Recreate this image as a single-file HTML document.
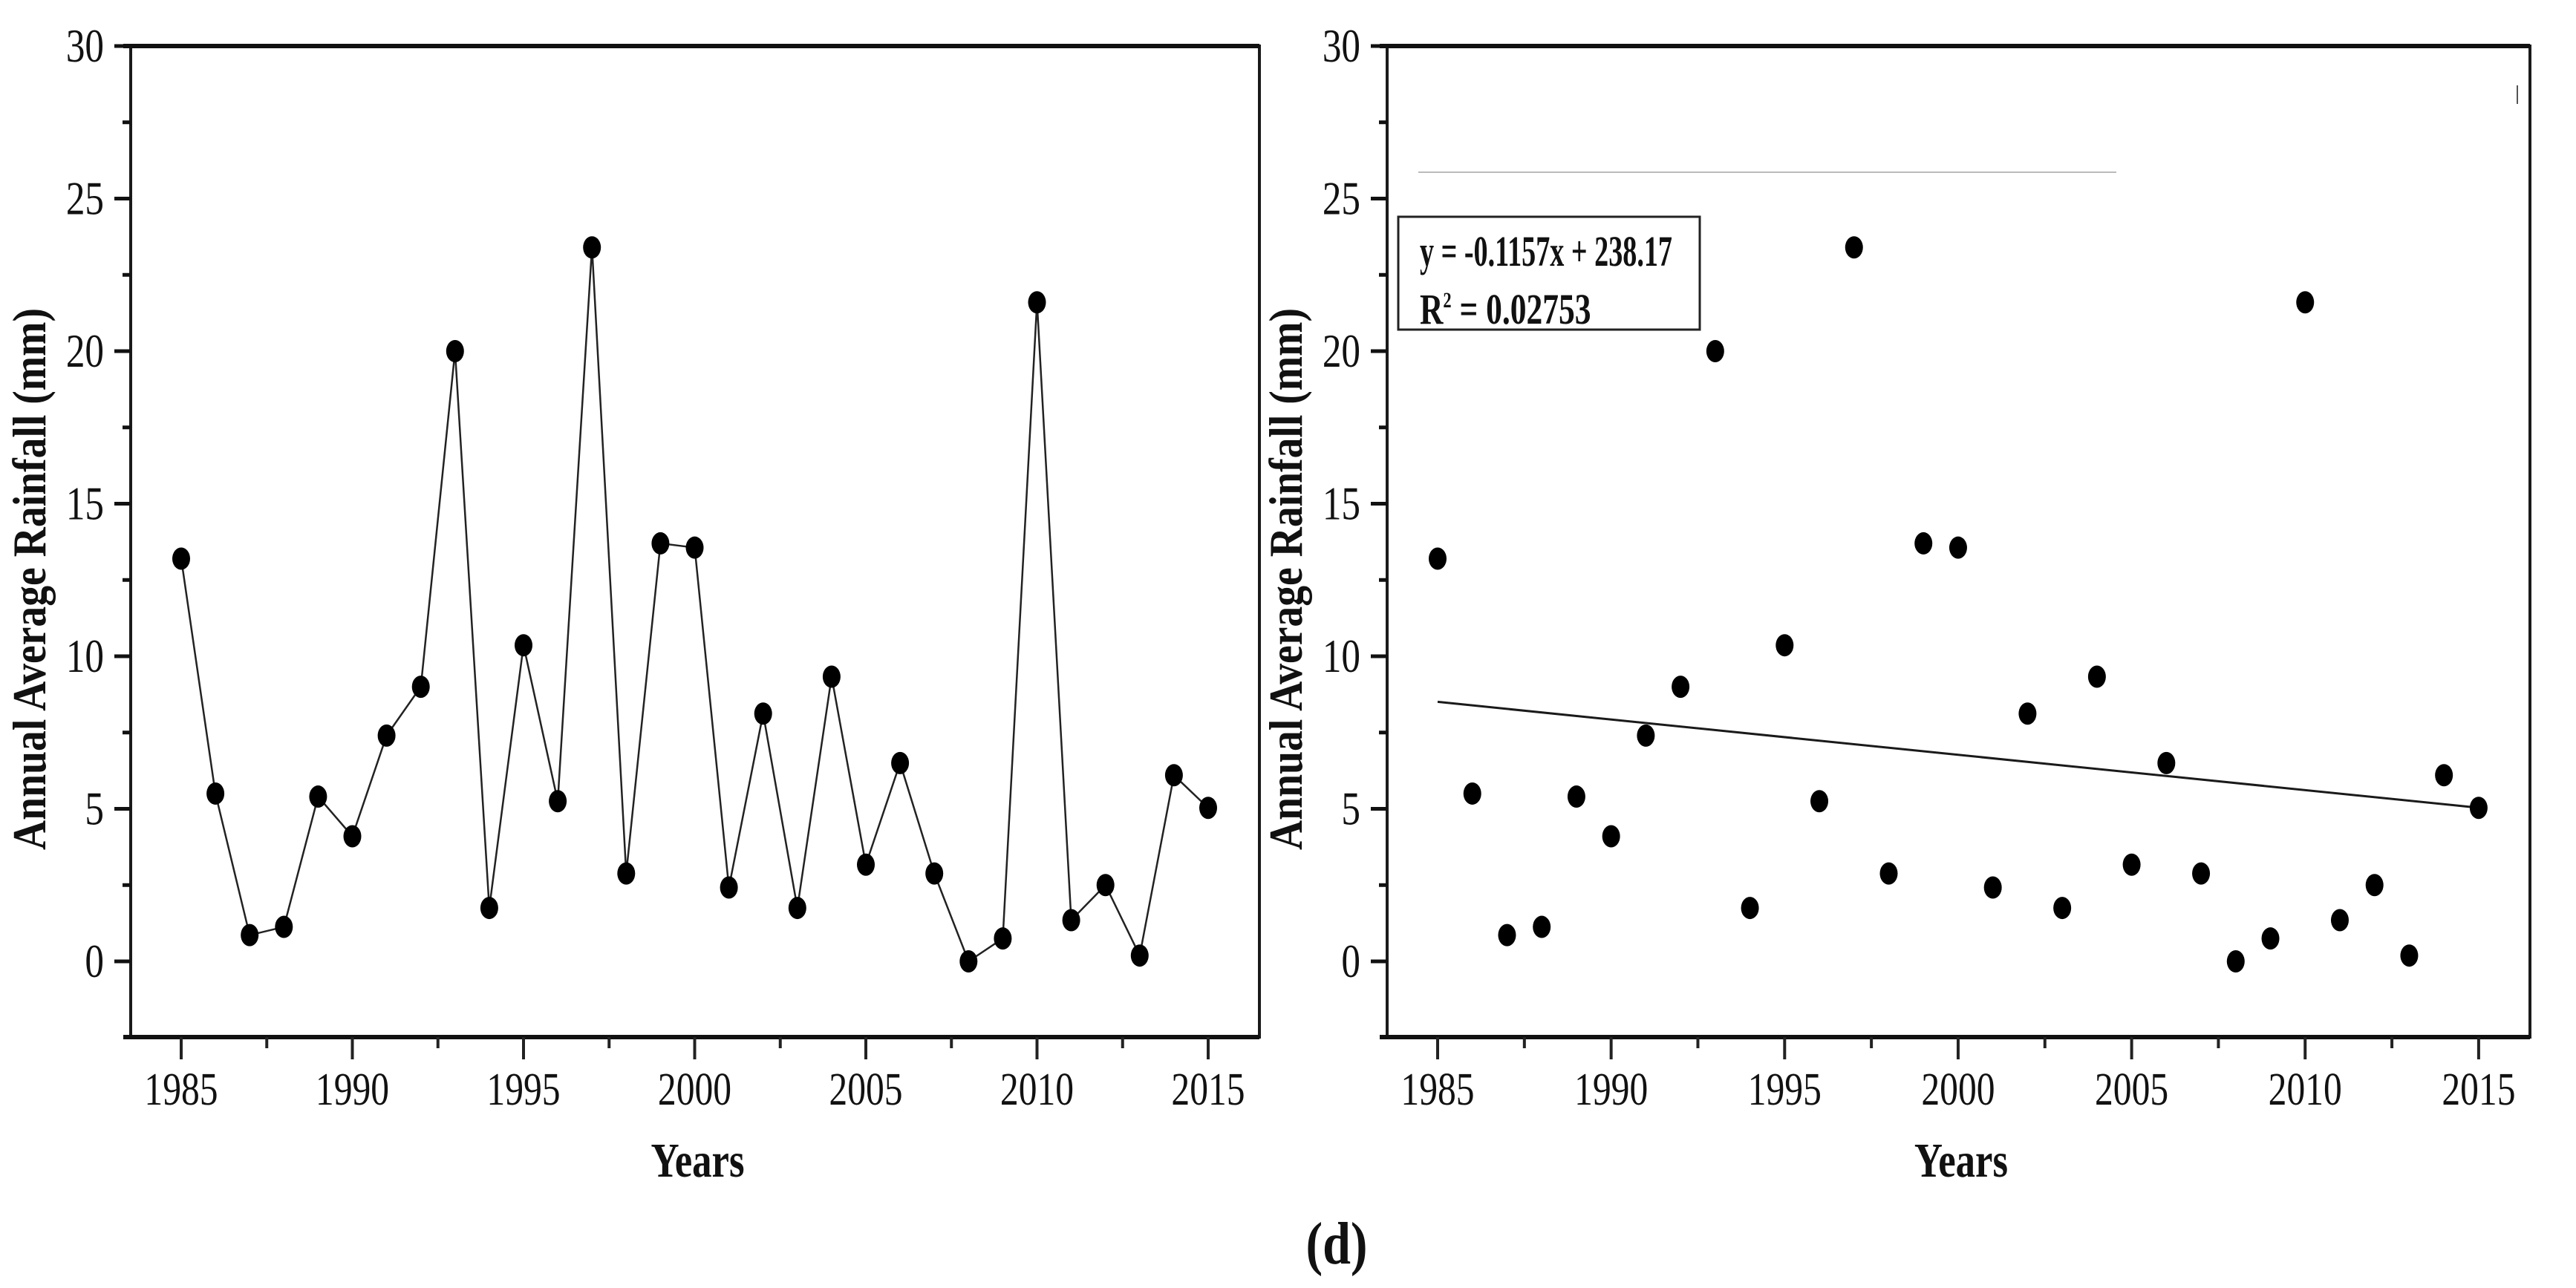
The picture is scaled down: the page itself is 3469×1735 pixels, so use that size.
<!DOCTYPE html>
<html><head><meta charset="utf-8"><style>
html,body{margin:0;padding:0;background:#fff;}
svg{display:block;}
text{font-family:"Liberation Serif","Times New Roman",serif;fill:#111;}
</style></head><body>
<svg id="fig" width="3469" height="1735" viewBox="0 0 3469 1735" xmlns="http://www.w3.org/2000/svg">
<rect width="3469" height="1735" fill="#fff"/>
</svg>
<script>
const years = [1985,1986,1987,1988,1989,1990,1991,1992,1993,1994,1995,1996,1997,1998,1999,2000,2001,2002,2003,2004,2005,2006,2007,2008,2009,2010,2011,2012,2013,2014,2015];
const rainfall = [13.2,5.5,0.86,1.13,5.4,4.1,7.4,9.0,20.0,1.75,10.36,5.25,23.4,2.88,13.7,13.56,2.42,8.12,1.75,9.33,3.17,6.5,2.88,0.0,0.75,21.6,1.35,2.5,0.19,6.1,5.03];
const xTickLabels = [1985,1990,1995,2000,2005,2010,2015];
const yTickLabels = [0,5,10,15,20,25,30];
const trendSlope = -0.1157;
const trendIntercept = 238.17;

const NS = "http://www.w3.org/2000/svg";
const svg = document.getElementById('fig');
function el(tag, attrs, parent){
  const e = document.createElementNS(NS, tag);
  for (const k in attrs) e.setAttribute(k, attrs[k]);
  (parent||svg).appendChild(e);
  return e;
}
function stext(parent, x, y, str, size, weight, anchor, sx, len){
  const g = el('g', {transform:`translate(${x},${y}) scale(${sx},1)`}, parent);
  const t = el('text', {x:0, y:0, 'font-size':size, 'font-weight':weight, 'text-anchor':anchor}, g);
  if (len) { t.setAttribute('textLength', len/sx); t.setAttribute('lengthAdjust','spacingAndGlyphs'); }
  t.textContent = str;
  return t;
}

function panel(name, left, right, x1985, perYear, scatter){
  const top = 62, y0 = 1295, perUnit = 41.1, bottom = 1397;
  const X = yr => x1985 + (yr - 1985) * perYear;
  const Y = v => y0 - v * perUnit;
  const g = el('g', {});
  
  
  const frame = el('rect', {x:left, y:top, width:right-left, height:bottom-top, fill:'none', stroke:'#1a1a1a', 'stroke-width':4}, g);
  
  
  el('line', {x1:left-10, y1:top, x2:right, y2:top, stroke:'#111', 'stroke-width':6}, g);
  el('line', {x1:left-10, y1:bottom, x2:right, y2:bottom, stroke:'#111', 'stroke-width':6}, g);
  for (let v = 0; v <= 30; v += 2.5) {
    const major = (v % 5 === 0);
    el('line', {x1:left-(major?22:11), y1:Y(v), x2:left, y2:Y(v), stroke:'#111', 'stroke-width':5}, g);
  }
  yTickLabels.forEach(v => {
    const t = stext(g, left-36, Y(v)+21, String(v), 64, 'normal', 'end', 0.8);
    
    
  });
  for (let yr = 1985; yr <= 2015; yr += 2.5) {
    const major = (yr % 5 === 0);
    el('line', {x1:X(yr), y1:bottom, x2:X(yr), y2:bottom+(major?30:15), stroke:'#222', 'stroke-width':4}, g);
  }
  xTickLabels.forEach(yr => {
    const t = stext(g, X(yr), 1488, String(yr), 62, 'normal', 'middle', 0.8);
    
    
  });
  const yt = el('g', {transform:`translate(${left-115},${780}) rotate(-90)`}, g);
  const ytt = el('text', {x:0, y:0, 'font-size':64, 'font-weight':'bold', 'text-anchor':'middle', textLength:730, lengthAdjust:'spacingAndGlyphs'}, yt);
  ytt.textContent = 'Annual Average Rainfall (mm)';
  
  
  const xt = stext(g, (X(1985)+X(2015))/2 + 4, 1585, 'Years', 66, 'bold', 'middle', 0.8);
  
  

  if (!scatter) {
    const pts = years.map((yr,i) => `${X(yr)},${Y(rainfall[i])}`).join(' ');
    const line = el('polyline', {points:pts, fill:'none', stroke:'#222', 'stroke-width':2.5}, g);
    
    
  } else {
    const tl = el('line', {x1:X(1985), y1:Y(trendSlope*1985+trendIntercept), x2:X(2015), y2:Y(trendSlope*2015+trendIntercept), stroke:'#1a1a1a', 'stroke-width':3}, g);
    
    
    const gl = el('line', {x1:1910, y1:232, x2:2850, y2:232, stroke:'#bbb', 'stroke-width':2}, g);
    
    
    const box = el('rect', {x:1883, y:292, width:406, height:152, fill:'#fff', stroke:'#222', 'stroke-width':3}, g);
    
    
    const e1 = stext(g, 1912, 358, 'y = -0.1157x + 238.17', 58, 'bold', 'start', 0.75, 340);
    
    
    const r2 = el('g', {transform:'translate(1912,436) scale(0.75,1)'}, g);
    const rt = el('text', {x:0, y:0, 'font-size':58, 'font-weight':'bold'}, r2);
    
    
    rt.innerHTML = 'R<tspan dy="-22" font-size="30">2</tspan><tspan dy="22"> = 0.02753</tspan>';
    el('line', {x1:3390, y1:115, x2:3390, y2:140, stroke:'#555', 'stroke-width':2}, g);
  }
  years.forEach((yr,i) => {
    const c = el('ellipse', {cx:X(yr), cy:Y(rainfall[i]), rx:12, ry:15, fill:'#000'}, g);
    
    
  });
}

panel('line-chart-panel', 176, 1696, 244, 46.1, false);
panel('scatter-trend-panel', 1868, 3407, 1936, 46.73, true);

const cap = stext(svg, 1800, 1702, '(d)', 80, 'bold', 'middle', 0.85);


</script>
</body></html>
